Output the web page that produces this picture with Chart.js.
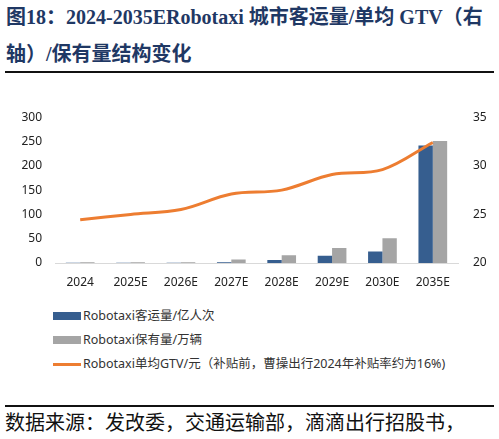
<!DOCTYPE html>
<html lang="zh">
<head>
  <meta charset="UTF-8">
  <title>2024-2035E Robotaxi 城市客运量/单均GTV/保有量</title>
  <script src="https://cdn.jsdelivr.net/npm/chart.js"></script>
  <style>
    body {
      margin: 0;
      width: 499px;
      height: 439px;
      background: #fff;
      position: relative;
      overflow: hidden;
      font-family: "Noto Sans", "Noto Sans CJK SC", sans-serif;
    }
    #titulo {
      position: absolute;
      left: 6px;
      top: -1px;
      font-family: "Liberation Serif", "Noto Sans CJK SC", serif;
      font-weight: bold;
      font-size: 20px;
      line-height: 37px;
      color: #1f3864;
      white-space: nowrap;
    }
    .regla {
      position: absolute;
      left: 5px;
      width: 489px;
      height: 2px;
      background: #111;
    }
    #grafico {
      position: absolute;
      left: 0;
      top: 95px;
    }
    #leyenda {
      position: absolute;
      left: 53px;
      top: 308px;
      font-size: 12.5px;
      color: #333;
    }
    .item {
      height: 16px;
      line-height: 16px;
      margin-bottom: 8px;
      display: flex;
      align-items: center;
    }
    .muestra {
      width: 28px;
      margin-right: 2px;
    }
    #fuente {
      position: absolute;
      left: 5px;
      top: 408px;
      font-size: 20px;
      line-height: 27px;
      color: #111;
      font-family: "Noto Sans CJK SC", serif;
      white-space: nowrap;
    }
  </style>
</head>
<body>

  <div id="titulo">图18：2024-2035ERobotaxi 城市客运量/单均 GTV（右<br>轴）/保有量结构变化</div>
  <div class="regla" style="top:71px"></div>

  <canvas id="grafico" width="499" height="195"></canvas>

  <div id="leyenda"></div>

  <div class="regla" style="top:405px"></div>
  <div id="fuente">数据来源：发改委，交通运输部，滴滴出行招股书，</div>

  <script>
    const anios = ['2024', '2025E', '2026E', '2027E', '2028E', '2029E', '2030E', '2035E'];
    const pasajeros = [0.3, 0.3, 0.4, 1.5, 6, 15, 23.5, 242];   // 亿人次
    const flota = [1.5, 1.6, 1.8, 7, 16, 31, 51, 251];           // 万辆
    const gtv = [24.45, 25.0, 25.5, 27.1, 27.5, 29.1, 29.6, 32.4]; // 元

    const ejeIzq = [0, 300, 50];
    const ejeDer = [20, 35, 5];

    const azul = '#365e8f';
    const gris = '#a5a5a5';
    const naranja = '#ed7d31';
    const fuenteTicks = { family: 'Noto Sans', size: 12 };

    const ctx = document.getElementById('grafico').getContext('2d');
    const chart = new Chart(ctx, {
      data: {
        labels: anios,
        datasets: [
          {
            type: 'bar',
            label: 'Robotaxi客运量/亿人次',
            data: pasajeros,
            backgroundColor: azul,
            yAxisID: 'y',
            categoryPercentage: 0.57,
            barPercentage: 1.0,
            order: 2
          },
          {
            type: 'bar',
            label: 'Robotaxi保有量/万辆',
            data: flota,
            backgroundColor: gris,
            yAxisID: 'y',
            categoryPercentage: 0.57,
            barPercentage: 1.0,
            order: 2
          },
          {
            type: 'line',
            label: 'Robotaxi单均GTV/元（补贴前，曹操出行2024年补贴率约为16%)',
            data: gtv,
            borderColor: naranja,
            backgroundColor: naranja,
            borderWidth: 3,
            pointRadius: 0,
            tension: 0.35,
            yAxisID: 'y1',
            order: 1
          }
        ]
      },
      options: {
        responsive: false,
        animation: false,
        layout: { padding: { top: 15, left: 0, right: 0, bottom: 0 } },
        plugins: {
          legend: { display: false },
          tooltip: { enabled: false }
        },
        scales: {
          x: {
            grid: { display: false, drawTicks: false },
            border: { color: '#d9d9d9', width: 1 },
            ticks: { color: '#222', font: fuenteTicks, padding: 12, maxRotation: 0 },
            afterFit: (s) => { s.height = 27; }
          },
          y: {
            position: 'left',
            min: ejeIzq[0], max: ejeIzq[1],
            grid: { display: false, drawTicks: false },
            border: { display: false },
            ticks: { stepSize: ejeIzq[2], color: '#222', font: fuenteTicks, padding: 13 },
            afterFit: (s) => { s.width = 55; }
          },
          y1: {
            position: 'right',
            min: ejeDer[0], max: ejeDer[1],
            grid: { display: false, drawTicks: false },
            border: { display: false },
            ticks: { stepSize: ejeDer[2], color: '#222', font: fuenteTicks, padding: 15 },
            afterFit: (s) => { s.width = 41; }
          }
        }
      }
    });

    // leyenda vertical en HTML, construida desde los datasets
    const leyenda = document.getElementById('leyenda');
    chart.data.datasets.forEach(ds => {
      const item = document.createElement('div');
      item.className = 'item';
      const muestra = document.createElement('span');
      muestra.className = 'muestra';
      muestra.style.background = ds.backgroundColor;
      muestra.style.height = ds.type === 'line' ? '3px' : '8px';
      const texto = document.createElement('span');
      texto.textContent = ds.label;
      item.appendChild(muestra);
      item.appendChild(texto);
      leyenda.appendChild(item);
    });
  </script>

</body>
</html>
